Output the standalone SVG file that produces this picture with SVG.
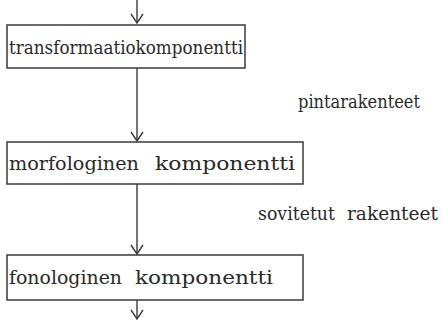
<svg xmlns="http://www.w3.org/2000/svg" width="441" height="322" viewBox="0 0 441 322">
<style>
.box{fill:#fff;stroke:#3a3a3a;stroke-width:1.5}
.t{font-family:'DejaVu Serif','Liberation Serif',serif;font-size:19px;fill:#2a2a2a}
.c{stroke:#3a3a3a;stroke-width:1.4;fill:none}
</style>
<defs>
<marker id="ah" markerWidth="12" markerHeight="14" refX="10" refY="7" orient="auto" markerUnits="userSpaceOnUse" viewBox="0 0 12 14">
<path d="M1,1 L10,7 L1,13" fill="none" stroke="#3a3a3a" stroke-width="1.4"/>
</marker>
</defs>
<rect width="441" height="322" fill="#fff"/>
<g id="connectors">
<line class="c" x1="137" y1="0" x2="137" y2="23" marker-end="url(#ah)"/>
<line class="c" x1="137" y1="68" x2="137" y2="141" marker-end="url(#ah)"/>
<line class="c" x1="137" y1="184" x2="137" y2="254" marker-end="url(#ah)"/>
<line class="c" x1="137" y1="300" x2="137" y2="319" marker-end="url(#ah)"/>
</g>
<g id="n1">
<rect class="box" x="7" y="25" width="238" height="43"/>
<text class="t" x="9" y="54" textLength="234" lengthAdjust="spacingAndGlyphs">transformaatiokomponentti</text>
</g>
<g id="n2">
<rect class="box" x="7" y="142" width="296" height="42"/>
<text class="t" x="9" y="170" textLength="130" lengthAdjust="spacingAndGlyphs">morfologinen</text>
<text class="t" x="155" y="170" textLength="140" lengthAdjust="spacingAndGlyphs">komponentti</text>
</g>
<g id="n3">
<rect class="box" x="7" y="255" width="296" height="45"/>
<text class="t" x="9" y="284" textLength="113" lengthAdjust="spacingAndGlyphs">fonologinen</text>
<text class="t" x="135" y="284" textLength="138" lengthAdjust="spacingAndGlyphs">komponentti</text>
</g>
<g id="labels">
<text class="t" x="298" y="108" textLength="122" lengthAdjust="spacingAndGlyphs">pintarakenteet</text>
<text class="t" x="258" y="220" textLength="77" lengthAdjust="spacingAndGlyphs">sovitetut</text>
<text class="t" x="347" y="220" textLength="91" lengthAdjust="spacingAndGlyphs">rakenteet</text>
</g>
</svg>
